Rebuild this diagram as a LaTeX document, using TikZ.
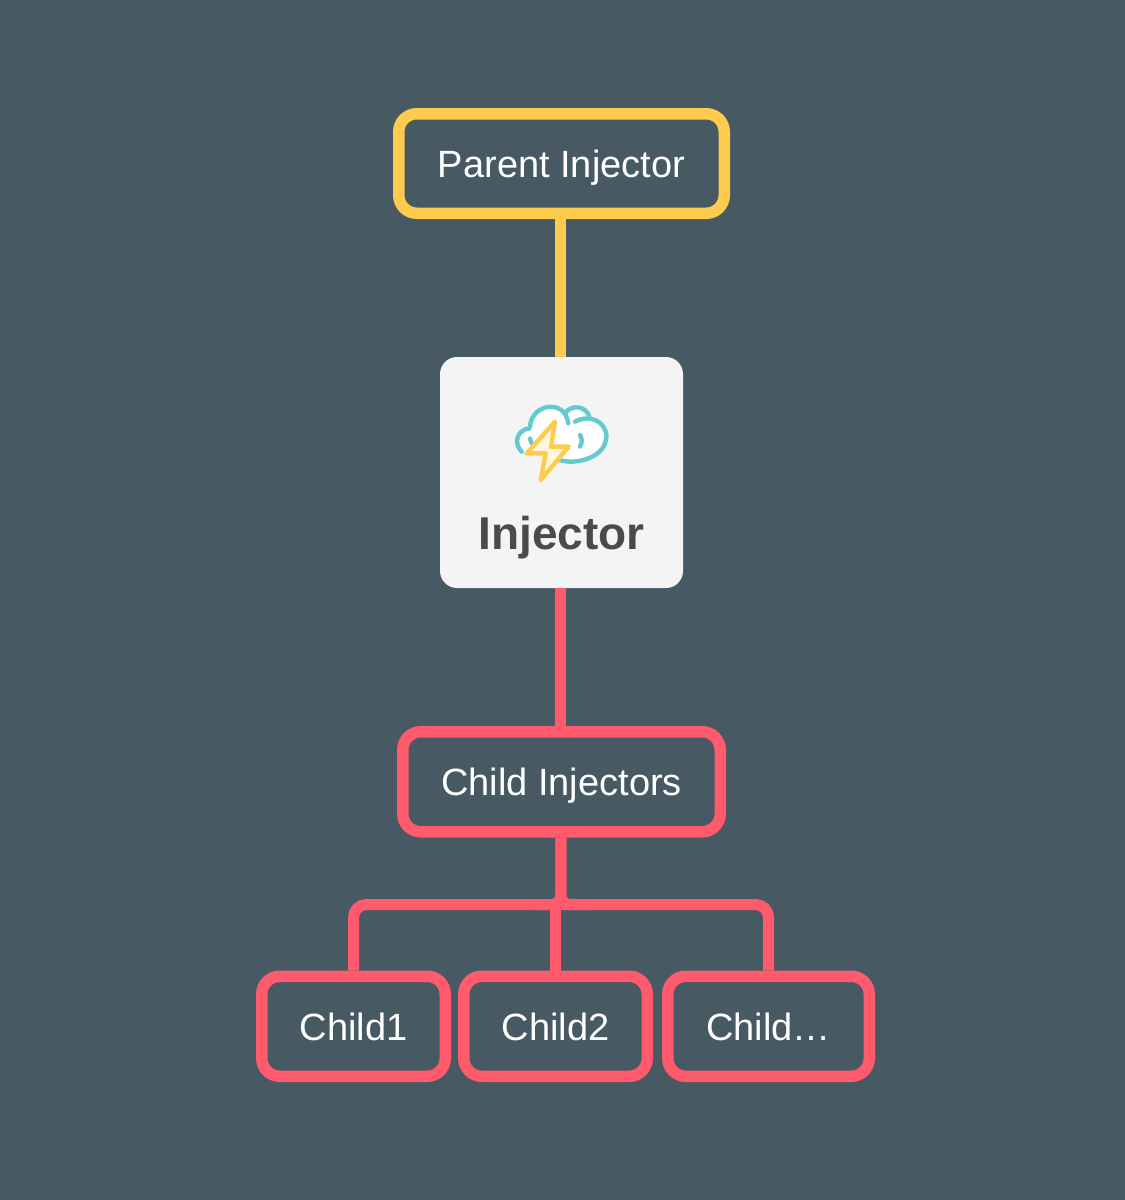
\documentclass[tikz,border=0pt]{standalone}
\usepackage{fontspec}
\setmainfont{Liberation Sans}
\usetikzlibrary{positioning}
\definecolor{slatebg}{HTML}{475963}
\definecolor{sunline}{HTML}{FFCB4C}
\definecolor{coralline}{HTML}{FF5B6C}
\definecolor{cardfill}{HTML}{F4F4F4}
\definecolor{cardtext}{HTML}{4A4A4A}
\definecolor{cloudline}{HTML}{62CBD0}
\definecolor{boltfill}{HTML}{FFF6DE}
\begin{document}
\begin{tikzpicture}[
      x=1pt, y=1pt,
      box/.style={draw, line width=11.5pt, rounded corners=18pt, align=center, text=white,
        font=\fontsize{38}{44}\selectfont, text depth=0pt, minimum height=99.5pt},
      parentbox/.style={box, draw=sunline, minimum width=325.5pt},
      childbox/.style={box, draw=coralline, line width=11.5pt, minimum height=100pt},
      card/.style={fill=cardfill, rounded corners=17pt, outer sep=0pt, minimum width=243pt, minimum height=231pt},
      sunlink/.style={draw=sunline, line width=11pt},
      coralink/.style={draw=coralline, line width=11pt},
      bus/.style={coralink, rounded corners=13pt},
      fillet/.style={coralink, rounded corners=9pt}
    ]
      \fill[slatebg] (0,0) rectangle (1125,-1200);
      \useasboundingbox (0,0) rectangle (1125,-1200);
      \node[card] (inj) at (561.5,-472.5) {};
      \node[font=\fontsize{46}{50}\selectfont\bfseries, text=cardtext, below=156pt of inj.north] (injlabel) {Injector};
      \node[parentbox, above=138pt of inj] (parent) {Parent Injector};
      \node[childbox, below=138pt of inj, minimum width=317.5pt] (kids) {Child Injectors};
      \node[childbox, below=133pt of kids, xshift=-6pt, minimum width=183.5pt] (child2) {Child2};
      \node[childbox, left=7pt of child2, minimum width=183.5pt] (child1) {Child1};
      \node[childbox, right=9pt of child2, minimum width=201.5pt] (child3) {Child…};
      \coordinate (fork) at ([xshift=-0.7pt]kids.south |- 0,-904.5);
      \draw[sunlink] ([xshift=-0.7pt]parent.south) -- ([xshift=-0.7pt]inj.north);
      \draw[coralink] ([xshift=-0.7pt]inj.south) -- ([xshift=-0.7pt]kids.north);
      \draw[bus] (child1.north) |- (fork) -| (child3.north);
      \draw[fillet] ([xshift=-0.7pt]kids.south) |- ([xshift=-30pt]fork);
      \draw[fillet] ([xshift=-0.7pt]kids.south) |- ([xshift=30pt]fork);
      \draw[coralink] (child2.north) -- (child2.north |- fork);
      % cloud and bolt
      \begin{scope}[shift={(490,-390)}, x=0.3333pt, y=-0.3333pt, line width=4.4pt, line cap=round, line join=round]
        \fill[white] (95,185) .. controls (70,160) and (80,120) .. (118,115)
          .. controls (125,60) and (195,25) .. (232,72)
          .. controls (255,40) and (290,50) .. (300,82)
          .. controls (345,85) and (365,140) .. (335,180)
          .. controls (315,210) and (250,225) .. (210,210) -- (120,180) -- cycle;
        \draw[cloudline] (95,185) .. controls (70,160) and (80,120) .. (118,115);
        \draw[cloudline] (120,110) .. controls (125,40) and (225,25) .. (235,100);
        \draw[cloudline] (225,70) .. controls (245,40) and (290,50) .. (298,80);
        \draw[cloudline] (255,95) .. controls (310,65) and (365,110) .. (345,160)
          .. controls (330,205) and (255,225) .. (210,210);
        \draw[cloudline] (120,146) .. controls (122,155) and (125,162) .. (132,166);
        \draw[cloudline] (270,135) .. controls (278,148) and (276,160) .. (270,170);
        \draw[sunline, fill=boltfill] (195,95) -- (110,190) -- (167,190) -- (152,270)
          -- (236,170) -- (183,170) -- cycle;
      \end{scope}
    \end{tikzpicture}
\end{document}
